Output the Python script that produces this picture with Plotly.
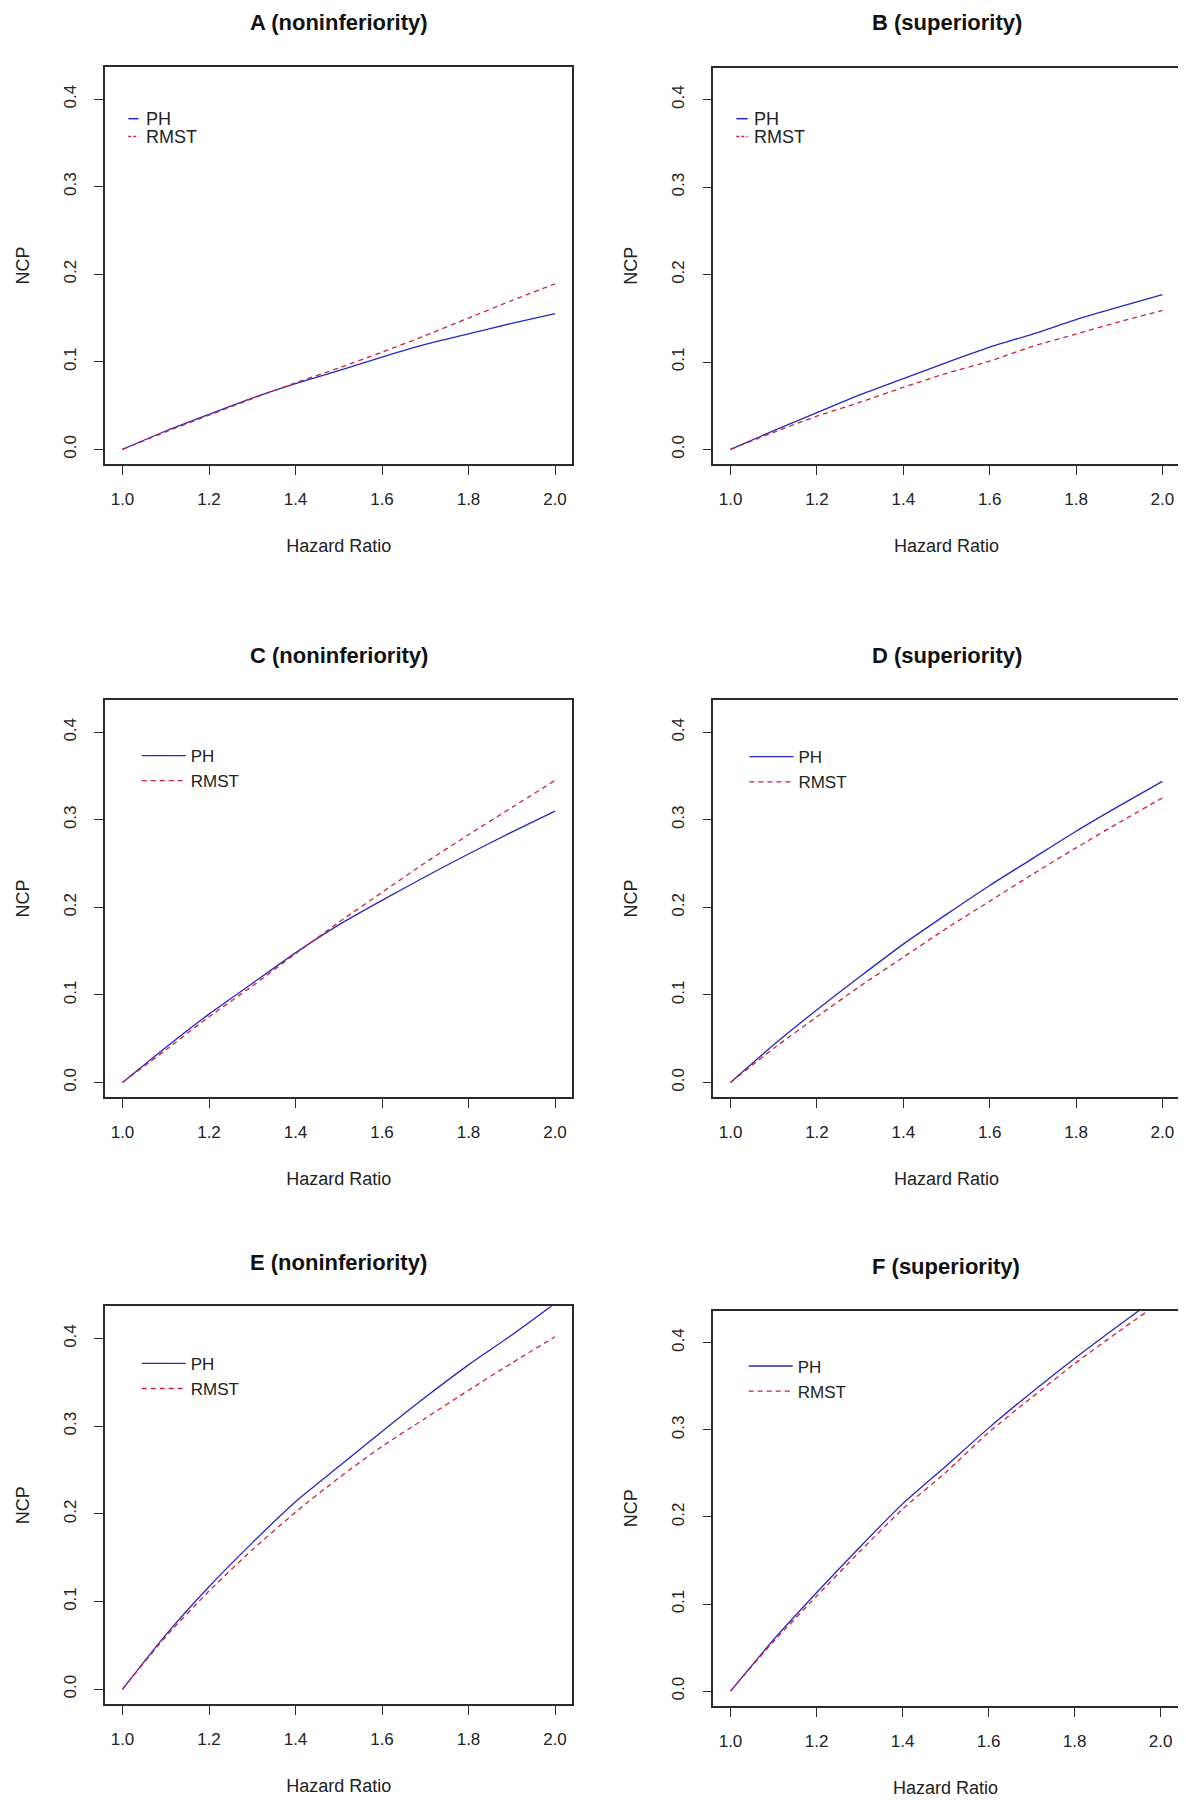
import plotly.graph_objects as go

# ---------------- data ----------------
hazard_ratio = [1.0, 1.1, 1.2, 1.3, 1.4, 1.5, 1.6, 1.7, 1.8, 1.9, 2.0]

A_ph   = [0, 0.021, 0.040, 0.0585, 0.075, 0.090, 0.1055, 0.120, 0.132, 0.144, 0.155]
A_rmst = [0, 0.020, 0.039, 0.058, 0.076, 0.093, 0.111, 0.130, 0.150, 0.170, 0.189]
B_ph   = [0, 0.0215, 0.042, 0.0626, 0.081, 0.0994, 0.117, 0.132, 0.1485, 0.163, 0.177]
B_rmst = [0, 0.0196, 0.038, 0.054, 0.071, 0.087, 0.101, 0.118, 0.132, 0.146, 0.159]
C_ph   = [0, 0.040, 0.078, 0.113, 0.148, 0.180, 0.208, 0.235, 0.261, 0.286, 0.310]
C_rmst = [0, 0.037, 0.075, 0.110, 0.147, 0.183, 0.217, 0.251, 0.283, 0.314, 0.345]
D_ph   = [0, 0.043, 0.083, 0.121, 0.158, 0.192, 0.225, 0.256, 0.287, 0.316, 0.344]
D_rmst = [0, 0.039, 0.075, 0.110, 0.143, 0.176, 0.207, 0.238, 0.268, 0.297, 0.325]
E_ph   = [0, 0.062, 0.117, 0.167, 0.214, 0.254, 0.294, 0.333, 0.370, 0.404, 0.440]
E_rmst = [0, 0.060, 0.112, 0.159, 0.202, 0.241, 0.277, 0.309, 0.341, 0.372, 0.402]
F_ph   = [0, 0.059, 0.113, 0.165, 0.215, 0.258, 0.302, 0.343, 0.382, 0.419, 0.455]
F_rmst = [0, 0.057, 0.109, 0.160, 0.209, 0.251, 0.297, 0.337, 0.376, 0.412, 0.447]

panel_titles = ["A (noninferiority)", "B (superiority)",
                "C (noninferiority)", "D (superiority)",
                "E (noninferiority)", "F (superiority)"]
series_names = ["PH", "RMST"]
x_ticks = [1.0, 1.2, 1.4, 1.6, 1.8, 2.0]
y_ticks = [0.0, 0.1, 0.2, 0.3, 0.4]

panels = [(A_ph, A_rmst), (B_ph, B_rmst), (C_ph, C_rmst),
          (D_ph, D_rmst), (E_ph, E_rmst), (F_ph, F_rmst)]

# ---------------- layout geometry (pixels) ----------------
W, H = 1186, 1800
boxes = [  # x0, x1, y_top, y_bottom
    (97.2, 564.3, 58.9, 456.1),
    (705.3, 1171.7, 59.6, 456.1),
    (97.2, 564.3, 692.1, 1089.1),
    (705.3, 1171.7, 692.1, 1089.1),
    (97.2, 564.3, 1298.3, 1696.0),
    (705.3, 1169.8, 1302.7, 1697.8),
]
title_y = [14.3, 14.3, 647.7, 647.7, 1254.7, 1258.4]
# legend: (text start x, first entry y, second entry y, symbol x0, symbol x1)
legend_geo = [
    (136.9, 110.7, 128.6, 120.3, 130.5),
    (745.4, 110.7, 128.6, 728.4, 739.7),
    (182.7, 747.6, 770.9, 131.2, 166.4),
    (790.4, 748.7, 770.9, 739.4, 774.5),
    (182.7, 1355.4, 1377.9, 131.2, 166.4),
    (789.7, 1358.0, 1379.8, 738.6, 773.8),
]

FONT = "Liberation Sans, Arial, sans-serif"
AX = "#2b2b2b"
TXT = "#222222"
PH_COLOR = "#2626C2"
RMST_COLOR = "#D0213A"
LEG_FONT = 17
ITEMW = 44

fig = go.Figure()
layout = dict(
    width=W, height=H,
    margin=dict(l=0, r=0, t=0, b=0),
    paper_bgcolor="white", plot_bgcolor="white",
    font=dict(family=FONT, size=17, color=TXT),
    annotations=[], shapes=[],
    showlegend=True,
)

for i, ((ph, rmst), (x0, x1, y0, y1)) in enumerate(zip(panels, boxes)):
    k = i + 1
    xa = "x" if k == 1 else f"x{k}"
    ya = "y" if k == 1 else f"y{k}"
    lg = "legend" if k == 1 else f"legend{k}"
    small_legend = i < 2  # panels A/B use a compact legend with short keys
    fig.add_trace(go.Scatter(
        x=hazard_ratio, y=ph, mode="lines", name=series_names[0],
        line=dict(color=PH_COLOR, width=1.3, shape="spline", smoothing=0.6),
        xaxis=xa, yaxis=ya, legend=lg, showlegend=not small_legend,
        hoverinfo="skip"))
    fig.add_trace(go.Scatter(
        x=hazard_ratio, y=rmst, mode="lines", name=series_names[1],
        line=dict(color=RMST_COLOR, width=1.3, dash="5px,4px",
                  shape="spline", smoothing=0.6),
        xaxis=xa, yaxis=ya, legend=lg, showlegend=not small_legend,
        hoverinfo="skip"))

    common = dict(showline=True, mirror=True, linecolor=AX, linewidth=1.5,
                  ticks="outside", ticklen=9, tickwidth=1.3, tickcolor=AX,
                  showgrid=False, zeroline=False,
                  tickfont=dict(family=FONT, size=17, color=TXT))
    layout["xaxis" if k == 1 else f"xaxis{k}"] = dict(
        common, domain=[x0 / W, x1 / W], anchor=ya,
        range=[0.96, 2.04], tickvals=x_ticks, tickformat=".1f",
        ticklabelstandoff=10,
        title=dict(text="Hazard Ratio", standoff=31,
                   font=dict(family=FONT, size=18, color=TXT)))
    layout["yaxis" if k == 1 else f"yaxis{k}"] = dict(
        common, domain=[1 - y1 / H, 1 - y0 / H], anchor=xa,
        range=[-0.0168, 0.4368], tickvals=y_ticks, tickformat=".1f",
        tickangle=-90, ticklabelstandoff=12,
        title=dict(text="NCP", standoff=26,
                   font=dict(family=FONT, size=18, color=TXT)))

    tx, ly1, ly2, sx0, sx1 = legend_geo[i]
    if small_legend:
        # compact legend: short key segments with labels
        for name, yy, col, dash in [(series_names[0], ly1, PH_COLOR, "solid"),
                                    (series_names[1], ly2, RMST_COLOR, "3px,2px")]:
            layout["shapes"].append(dict(
                type="line", xref="paper", yref="paper",
                x0=sx0 / W, x1=sx1 / W, y0=1 - yy / H, y1=1 - yy / H,
                line=dict(color=col, width=1.5, dash=dash)))
            layout["annotations"].append(dict(
                text=name, x=tx / W, y=1 - yy / H, xref="paper", yref="paper",
                xanchor="left", yanchor="middle", showarrow=False,
                borderpad=0, font=dict(family=FONT, size=18, color=TXT)))
        layout[lg] = dict(visible=False)
    else:
        h_item = LEG_FONT * 1.3 + 3
        lx = tx - 10 - ITEMW
        top = ly1 - 5 - h_item / 2
        layout[lg] = dict(
            x=lx / W, y=1 - top / H, xanchor="left", yanchor="top",
            bgcolor="rgba(0,0,0,0)", borderwidth=0, itemwidth=ITEMW,
            font=dict(family=FONT, size=LEG_FONT, color=TXT),
            tracegroupgap=0, itemclick=False, itemdoubleclick=False)

    layout["annotations"].append(dict(
        text=f"<b>{panel_titles[i]}</b>", x=(x0 + x1) / 2 / W, y=1 - title_y[i] / H,
        xref="paper", yref="paper", xanchor="center", yanchor="middle",
        showarrow=False, font=dict(family=FONT, size=22, color="#111111")))

fig.update_layout(**layout)
fig.write_html("out.html")
